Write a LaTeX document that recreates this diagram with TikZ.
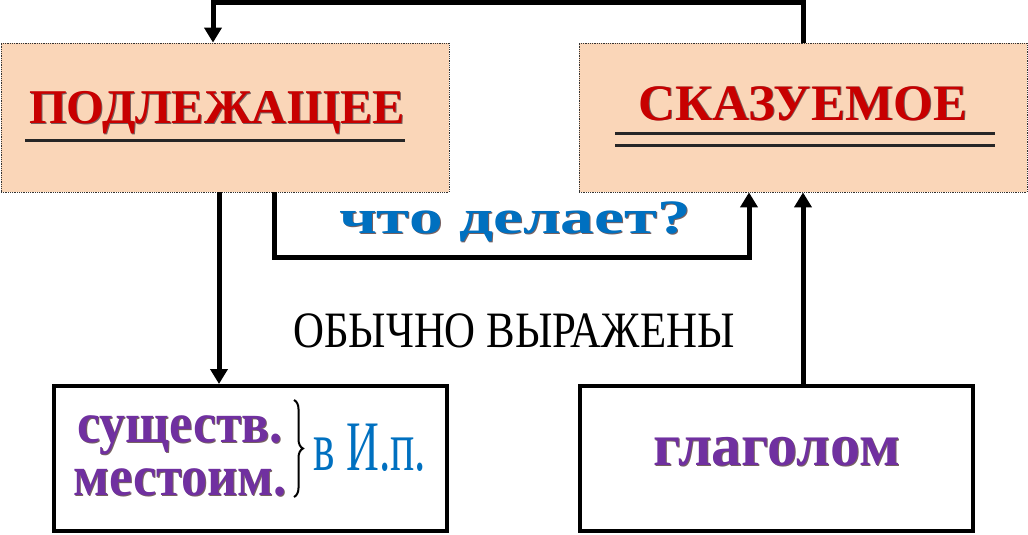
\documentclass[tikz,border=0pt]{standalone}
\usepackage{fontspec}
\setmainfont{Liberation Serif}
\usetikzlibrary{arrows.meta,decorations.pathreplacing}
\definecolor{peach}{RGB}{250,214,184}
\definecolor{tred}{RGB}{200,0,0}
\definecolor{tblue}{RGB}{0,112,192}
\definecolor{tpurple}{RGB}{112,48,160}
\definecolor{shad}{RGB}{60,30,30}
\tikzset{
  topbox/.style={draw=black!80,densely dotted,line width=0.8pt,fill=peach,minimum width=448pt,minimum height=149pt,inner sep=0pt},
  botbox/.style={draw=black,line width=4pt,minimum width=393pt,minimum height=145pt,inner sep=0pt},
  conn/.style={line width=5pt,-{Triangle[width=17pt,length=15pt]}},
  uline/.style={line width=3pt,black!85},
  lbl/.style={anchor=base,inner sep=0pt},
  sh/.style={anchor=base,inner sep=0pt,text=shad!70},
}
\begin{document}
\begin{tikzpicture}[x=1pt,y=-1pt]
\useasboundingbox (0,0) rectangle (1028,535);
% boxes
\node[topbox] (subj) at (225,117.5) {};
\node[topbox] (pred) at (803,117.5) {};
\node[botbox] (noun) at (250.5,458.5) {};
\node[botbox] (verb) at (776,458.5) {};
% titles
\node[sh] (subjs) at (218,124) {\fontsize{48.5}{50}\selectfont\bfseries ПОДЛЕЖАЩЕЕ};
\node[lbl,text=tred] (subjt) at (217,123) {\fontsize{48.5}{50}\selectfont\bfseries ПОДЛЕЖАЩЕЕ};
\draw[uline] (25,140) coordinate (u1) -- (405,140) coordinate (u2);
\node[sh] (preds) at (804,121) {\fontsize{51}{53}\selectfont\bfseries СКАЗУЕМОЕ};
\node[lbl,text=tred] (predt) at (803,120) {\fontsize{51}{53}\selectfont\bfseries СКАЗУЕМОЕ};
\draw[uline] (615,133) coordinate (u3) -- (995,133) coordinate (u4);
\draw[uline] (615,145) coordinate (u5) -- (995,145) coordinate (u6);
% connectors
\coordinate (t1) at (213,3);
\coordinate (cL) at (219,0);
\coordinate (q1) at (274,257);
\coordinate (q2) at (749,257);
\coordinate (cR) at (803,0);
\draw[conn] (pred.north) |- (t1) -- (t1 |- subj.north);
\draw[conn] (subj.south -| cL) -- (noun.north -| cL);
\draw[conn] (subj.south -| q1) -- (q1) -- (q2) -- (pred.south -| q2);
\draw[conn] (verb.north -| cR) -- (pred.south -| cR);
% labels
\node[sh] (qs) at (516,234) {\scalebox{1.4}[1]{\fontsize{48}{50}\selectfont\bfseries что делает?}};
\node[lbl,text=tblue] (q) at (515,233) {\scalebox{1.4}[1]{\fontsize{48}{50}\selectfont\bfseries что делает?}};
\node[lbl] (expr) at (514,347) {\scalebox{0.84}[1]{\fontsize{51}{53}\selectfont ОБЫЧНО ВЫРАЖЕНЫ}};
% bottom-left content
\node[sh] (n1s) at (181,443) {\scalebox{0.91}[1]{\fontsize{57}{58}\selectfont\bfseries существ.}};
\node[lbl,text=tpurple] (n1) at (180,442) {\scalebox{0.91}[1]{\fontsize{57}{58}\selectfont\bfseries существ.}};
\node[sh] (n2s) at (181,496) {\scalebox{0.92}[1]{\fontsize{57}{58}\selectfont\bfseries местоим.}};
\node[lbl,text=tpurple] (n2) at (180,495) {\scalebox{0.92}[1]{\fontsize{57}{58}\selectfont\bfseries местоим.}};
\draw[line width=2pt,decorate,decoration={brace,amplitude=9pt}] (294,400) coordinate (b1) -- (294,497) coordinate (b2);
\node[lbl,text=tblue] (case) at (370,470) {\scalebox{0.64}[1]{\fontsize{71}{73}\selectfont в И.п.}};
% bottom-right content
\node[sh] (vs) at (778,466) {\fontsize{60}{62}\selectfont\bfseries глаголом};
\node[lbl,text=tpurple] (v) at (777,465) {\fontsize{60}{62}\selectfont\bfseries глаголом};
\end{tikzpicture}
\end{document}
